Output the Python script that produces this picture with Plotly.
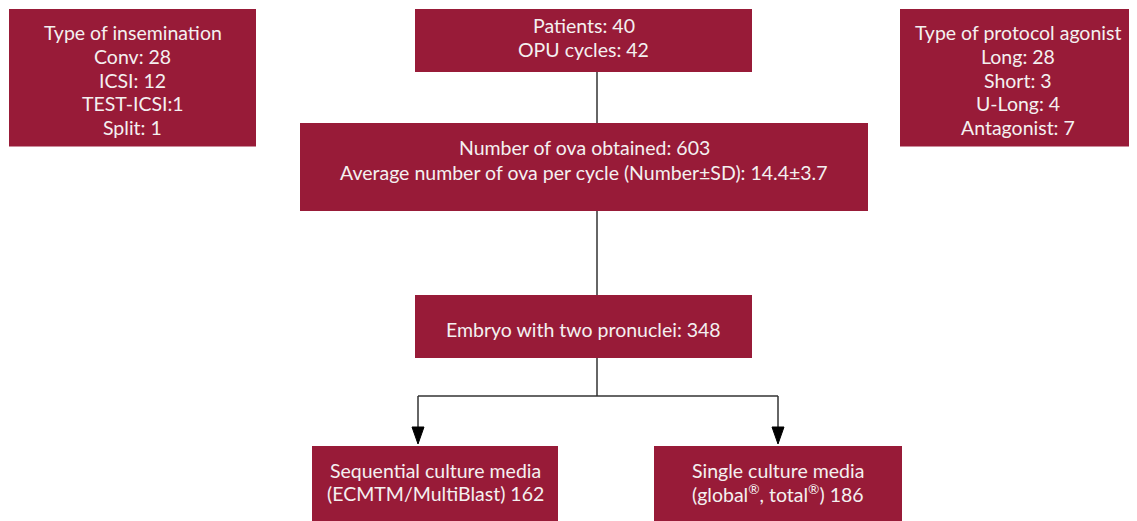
import plotly.graph_objects as go

# ---- data (text content of the flowchart) ----
insemination_lines = ["Type of insemination", "Conv: 28", "ICSI: 12", "TEST-ICSI:1", "Split: 1"]
cycle_lines = ["Patients: 40", "OPU cycles: 42"]
protocol_lines = ["Type of protocol agonist", "Long: 28", "Short: 3", "U-Long: 4", "Antagonist: 7"]
ova_lines = ["Number of ova obtained: 603",
             "Average number of ova per cycle (Number±SD): 14.4±3.7"]
embryo_lines = ["Embryo with two pronuclei: 348"]
sequential_lines = ["Sequential culture media", "(ECMTM/MultiBlast) 162"]
single_lines = ["Single culture media", "(global<sup>®</sup>, total<sup>®</sup>) 186"]

box_labels = [insemination_lines, cycle_lines, protocol_lines, ova_lines,
              embryo_lines, sequential_lines, single_lines]

# ---- layout geometry (pixels, y downwards) ----
boxes = [  # x0, x1, y0, y1, first text line center, line spacing, text x offset
    (9, 256, 9, 146.5, 32.5, 23.8, 0),
    (415, 752, 9, 72, 25.5, 24, 0),
    (900, 1148, 9, 146.5, 32.5, 23.8, -6),
    (300, 868, 123, 211, 147, 25, 0),
    (415, 752, 295, 358, 329, 24, 0),
    (312, 558, 446, 521, 470, 23.5, 0),
    (654, 902, 446, 521, 470, 23.5, 0),
]

FILL = "#981B38"
TXT = "#F4F0F0"
LINE = "#333333"
FONT = "Lato"
FS = 19.5
OFF = 8  # page body margin

fig = go.Figure()
shapes = []
annotations = []
for (x0, x1, y0, y1, ty, dy, tx), lines in zip(boxes, box_labels):
    shapes.append(dict(type="rect", x0=x0, x1=x1, y0=y0, y1=y1, xref="x", yref="y",
                       fillcolor=FILL, line=dict(width=0), layer="below"))
    for i, ln in enumerate(lines):
        annotations.append(dict(x=(x0 + x1) / 2 + tx, y=ty + i * dy, xref="x", yref="y", text=ln,
                                showarrow=False, xanchor="center", yanchor="middle",
                                font=dict(family=FONT, size=FS, color=TXT)))

# connectors
cx = 597
conn = [
    (cx, 72, cx, 123),
    (cx, 211, cx, 295),
    (cx, 358, cx, 396),
    (418, 396, 778, 396),
    (418, 396, 418, 428),
    (778, 396, 778, 428),
]
for x0, y0, x1, y1 in conn:
    shapes.append(dict(type="line", x0=x0, y0=y0, x1=x1, y1=y1, xref="x", yref="y",
                       line=dict(color=LINE, width=1.5)))
for ax in (418, 778):
    shapes.append(dict(type="path", xref="x", yref="y",
                       path=f"M {ax-6} 427 L {ax+6} 427 L {ax} 444 Z",
                       fillcolor="#000000", line=dict(color="#000000", width=1)))

fig.update_layout(
    width=1137 - OFF, height=521 - OFF,
    margin=dict(l=0, r=0, t=0, b=0),
    paper_bgcolor="white", plot_bgcolor="white",
    xaxis=dict(range=[OFF, 1137], visible=False, fixedrange=True),
    yaxis=dict(range=[521, OFF], visible=False, fixedrange=True),
    shapes=shapes, annotations=annotations, showlegend=False,
)
fig.write_html("out.html")
